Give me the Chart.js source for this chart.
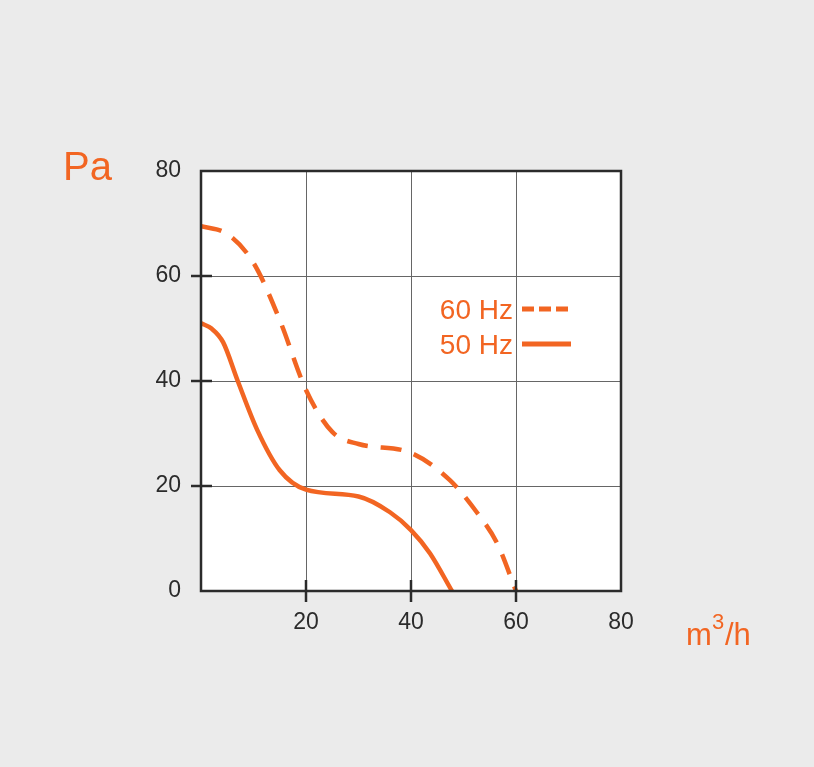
<!DOCTYPE html>
<html>
<head>
<meta charset="utf-8">
<script src="https://cdn.jsdelivr.net/npm/chart.js@4"></script>
<style>
  html, body { margin: 0; padding: 0; background: #ebebeb; }
  #wrap { width: 814px; height: 767px; }
</style>
</head>
<body>
<div id="wrap"><canvas id="fanChart"></canvas></div>
<script>
// Fan curve data (flow m3/h, pressure Pa)
const flow60 = [0, 5, 10, 15, 20, 25, 30, 40, 47.4, 52.6, 56.4, 60];
const pressure60 = [69.5, 68, 62.5, 51.6, 38.3, 30.3, 28, 26.3, 21.1, 14.9, 9.1, 0];

const flow50 = [0, 2, 4.2, 7, 10.7, 15, 20, 30, 36, 40, 43.6, 47.8];
const pressure50 = [51, 50, 47.4, 40, 30.7, 23, 19.3, 18, 15, 11.6, 7.2, 0];

const seriesLabels = ['60 Hz', '50 Hz'];
const tickValues = [0, 20, 40, 60, 80];

const orange = '#f26522';
const dark = '#2b2b2b';

function toPoints(xs, ys) {
  return xs.map((x, i) => ({ x: x, y: ys[i] }));
}

// frame, cross ticks, legend and unit labels
const decorations = {
  id: 'decorations',
  afterDatasetsDraw(chart) {
    const ctx = chart.ctx;
    const area = chart.chartArea;
    const xs = chart.scales.x;
    const ys = chart.scales.y;
    ctx.save();

    ctx.strokeStyle = dark;
    ctx.lineWidth = 2.5;
    ctx.strokeRect(area.left, area.top, area.right - area.left, area.bottom - area.top);

    tickValues.slice(1, 4).forEach(v => {
      const py = ys.getPixelForValue(v);
      ctx.beginPath();
      ctx.moveTo(area.left - 10, py);
      ctx.lineTo(area.left + 11, py);
      ctx.stroke();
      const px = xs.getPixelForValue(v);
      ctx.beginPath();
      ctx.moveTo(px, area.bottom - 11);
      ctx.lineTo(px, area.bottom + 11);
      ctx.stroke();
    });

    // legend
    ctx.fillStyle = orange;
    ctx.font = '28px "Liberation Sans", Arial, sans-serif';
    ctx.textAlign = 'right';
    ctx.textBaseline = 'middle';
    ctx.fillText(seriesLabels[0], 513, 311);
    ctx.fillText(seriesLabels[1], 513, 346);

    ctx.strokeStyle = orange;
    ctx.lineWidth = 5;
    ctx.setLineDash([12, 5]);
    ctx.beginPath();
    ctx.moveTo(522, 309);
    ctx.lineTo(571, 309);
    ctx.stroke();
    ctx.setLineDash([]);
    ctx.beginPath();
    ctx.moveTo(522, 344);
    ctx.lineTo(571, 344);
    ctx.stroke();

    // units
    ctx.textAlign = 'left';
    ctx.textBaseline = 'alphabetic';
    ctx.font = '40px "Liberation Sans", Arial, sans-serif';
    ctx.fillText('Pa', 63, 180);
    ctx.font = '31px "Liberation Sans", Arial, sans-serif';
    ctx.fillText('m', 686, 645);
    ctx.font = '22px "Liberation Sans", Arial, sans-serif';
    ctx.fillText('3', 712, 629);
    ctx.font = '31px "Liberation Sans", Arial, sans-serif';
    ctx.fillText('/h', 725, 645);

    ctx.restore();
  }
};

const whiteArea = {
  id: 'whiteArea',
  beforeDraw(chart) {
    const ctx = chart.ctx;
    const a = chart.chartArea;
    ctx.save();
    ctx.fillStyle = '#ebebeb';
    ctx.fillRect(0, 0, chart.width, chart.height);
    ctx.fillStyle = '#ffffff';
    ctx.fillRect(a.left, a.top, a.right - a.left, a.bottom - a.top);
    ctx.restore();
  }
};

new Chart(document.getElementById('fanChart'), {
  type: 'line',
  data: {
    datasets: [
      {
        label: seriesLabels[0],
        data: toPoints(flow60, pressure60),
        borderColor: orange,
        borderWidth: 4.5,
        borderDash: [21, 13],
        borderCapStyle: 'butt',
        cubicInterpolationMode: 'monotone',
        pointRadius: 0,
        fill: false
      },
      {
        label: seriesLabels[1],
        data: toPoints(flow50, pressure50),
        borderColor: orange,
        borderWidth: 4.5,
        cubicInterpolationMode: 'monotone',
        pointRadius: 0,
        fill: false
      }
    ]
  },
  options: {
    responsive: true,
    maintainAspectRatio: false,
    animation: false,
    layout: { padding: { left: 0, top: 171, right: 193, bottom: 0 } },
    plugins: {
      legend: { display: false },
      tooltip: { enabled: false }
    },
    scales: {
      x: {
        type: 'linear',
        min: 0,
        max: 80,
        afterFit(scale) { scale.height = 176; },
        afterBuildTicks(scale) { scale.ticks = tickValues.map(v => ({ value: v })); },
        grid: { color: '#666666', lineWidth: 1, drawTicks: false },
        border: { display: false },
        ticks: {
          padding: 18,
          color: dark,
          font: { family: '"Liberation Sans", Arial, sans-serif', size: 23 },
          callback: v => (v === 0 ? '' : v)
        }
      },
      y: {
        min: 0,
        max: 80,
        afterFit(scale) { scale.width = 201; },
        afterBuildTicks(scale) { scale.ticks = tickValues.map(v => ({ value: v })); },
        grid: { color: '#666666', lineWidth: 1, drawTicks: false },
        border: { display: false },
        ticks: {
          padding: 20,
          color: dark,
          font: { family: '"Liberation Sans", Arial, sans-serif', size: 23 }
        }
      }
    }
  },
  plugins: [whiteArea, decorations]
});
</script>
</body>
</html>
